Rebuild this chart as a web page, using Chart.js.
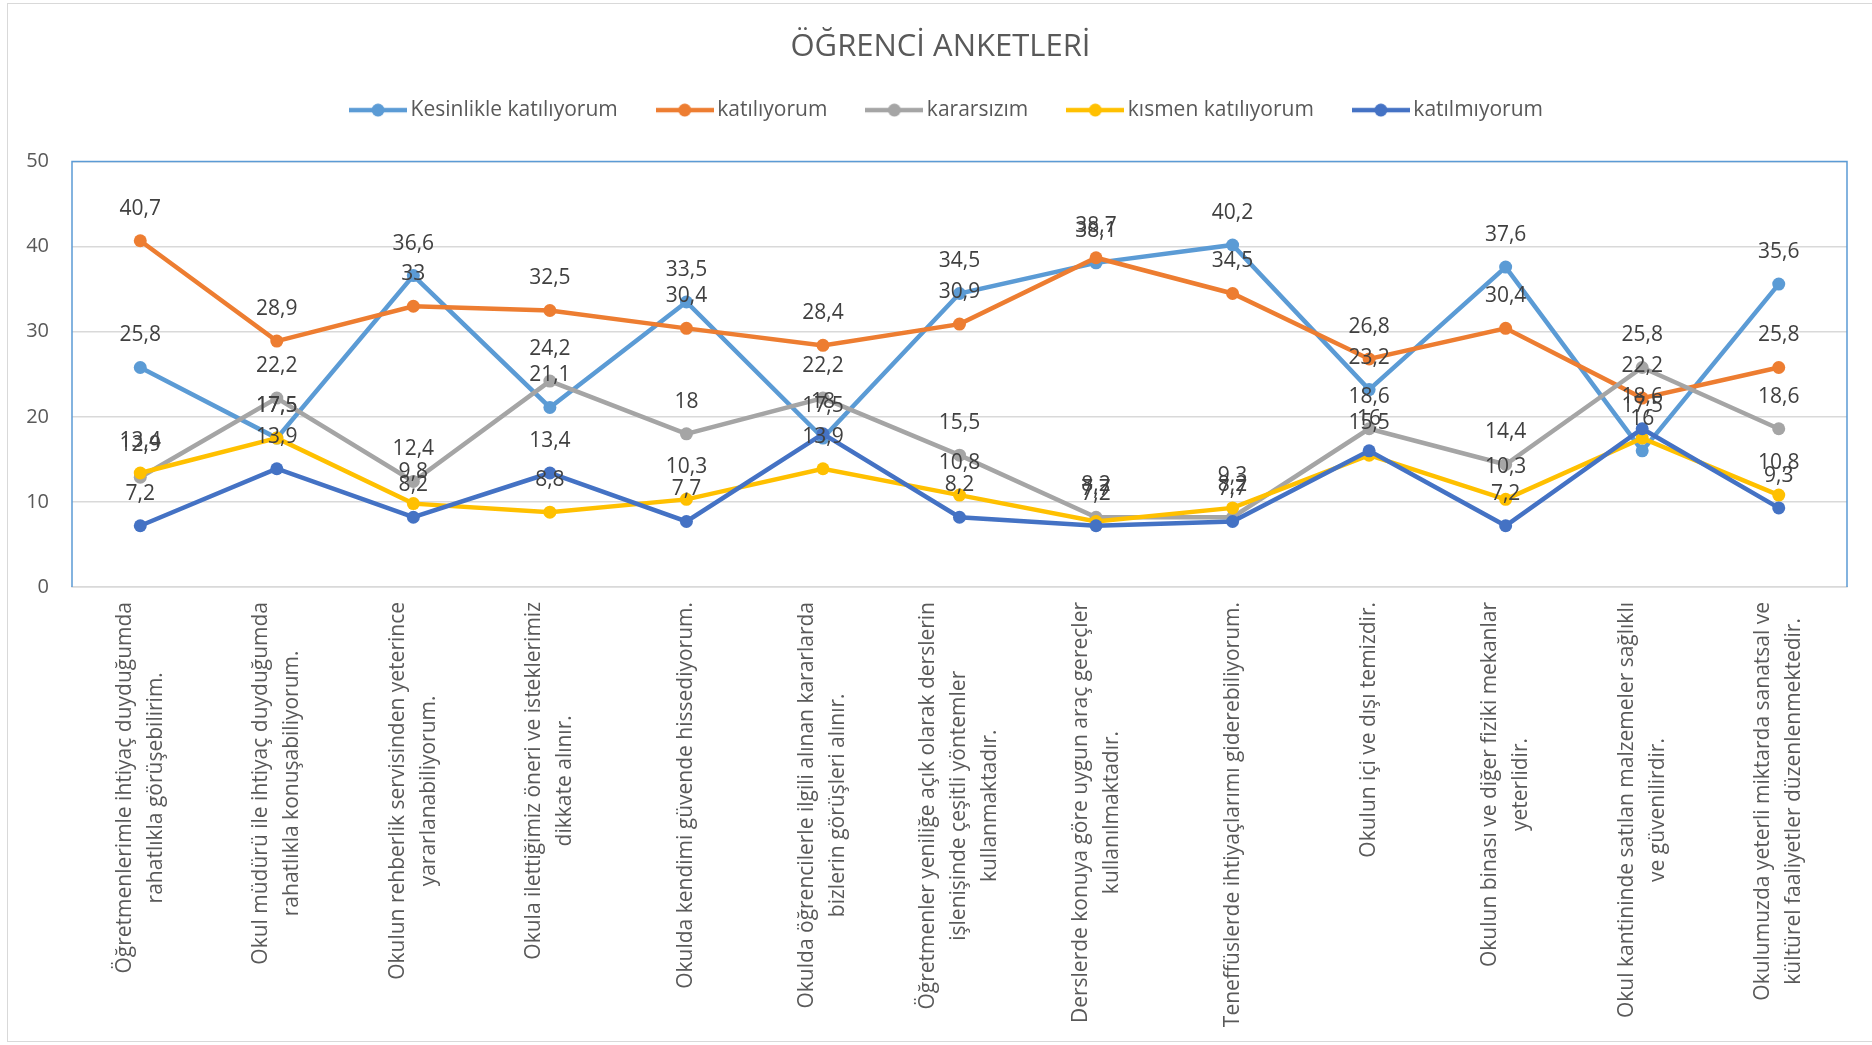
<!DOCTYPE html>
<html lang="tr">
<head>
<meta charset="utf-8">
<title>ÖĞRENCİ ANKETLERİ</title>
<script src="https://cdn.jsdelivr.net/npm/chart.js@4"></script>
<style>
    html, body { margin: 0; padding: 0; background: #fff; }
    body { width: 1872px; height: 1045px; position: relative; overflow: hidden; }
    #frame { position: absolute; left: 7px; top: 3px; width: 1880px; height: 1037px; border: 1px solid #d9d9d9; }
    #surveyChart { position: absolute; left: 0; top: 0; }
</style>
</head>
<body>
<div id="frame"></div>
<canvas id="surveyChart" width="1872" height="1045"></canvas>
<script>
// Categories (survey statements, already wrapped like the original)
const categories = [
    ["Öğretmenlerimle ihtiyaç duyduğumda", "rahatlıkla görüşebilirim."],
    ["Okul müdürü ile ihtiyaç duyduğumda", "rahatlıkla konuşabiliyorum."],
    ["Okulun rehberlik servisinden yeterince", "yararlanabiliyorum."],
    ["Okula ilettiğimiz öneri ve isteklerimiz", "dikkate alınır."],
    ["Okulda kendimi güvende hissediyorum."],
    ["Okulda öğrencilerle ilgili alınan kararlarda", "bizlerin görüşleri alınır."],
    ["Öğretmenler yeniliğe açık olarak derslerin", "işlenişinde çeşitli yöntemler", "kullanmaktadır."],
    ["Derslerde konuya göre uygun araç gereçler", "kullanılmaktadır."],
    ["Teneffüslerde ihtiyaçlarımı giderebiliyorum."],
    ["Okulun içi ve dışı temizdir."],
    ["Okulun binası ve diğer fiziki mekanlar", "yeterlidir."],
    ["Okul kantininde satılan malzemeler sağlıklı", "ve güvenilirdir."],
    ["Okulumuzda yeterli miktarda sanatsal ve", "kültürel faaliyetler düzenlenmektedir."]
];

// Series values (%)
const kesinlikle   = [25.8, 17.5, 36.6, 21.1, 33.5, 17.5, 34.5, 38.1, 40.2, 23.2, 37.6, 16, 35.6];
const katiliyorum  = [40.7, 28.9, 33, 32.5, 30.4, 28.4, 30.9, 38.7, 34.5, 26.8, 30.4, 22.2, 25.8];
const kararsizim   = [12.9, 22.2, 12.4, 24.2, 18, 22.2, 15.5, 8.2, 8.2, 18.6, 14.4, 25.8, 18.6];
const kismen       = [13.4, 17.5, 9.8, 8.8, 10.3, 13.9, 10.8, 7.7, 9.3, 15.5, 10.3, 17.5, 10.8];
const katilmiyorum = [7.2, 13.9, 8.2, 13.4, 7.7, 18, 8.2, 7.2, 7.7, 16, 7.2, 18.6, 9.3];

const seriesNames = ['Kesinlikle katılıyorum', 'katılıyorum', 'kararsızım', 'kısmen katılıyorum', 'katılmıyorum'];
const seriesColors = ['#5B9BD5', '#ED7D31', '#A5A5A5', '#FFC000', '#4472C4'];

// Y axis
const yMin = 0;
const yMax = 50;
const yStep = 10;

const FONT = '"Open Sans", "Noto Sans", sans-serif';

// small line + marker picture for the legend
function legendIcon(color) {
    const c = document.createElement('canvas');
    c.width = 58;
    c.height = 14;
    const g = c.getContext('2d');
    g.strokeStyle = color;
    g.lineWidth = 4.5;
    g.beginPath();
    g.moveTo(0, 7);
    g.lineTo(58, 7);
    g.stroke();
    g.fillStyle = color;
    g.beginPath();
    g.arc(29, 7, 6.5, 0, Math.PI * 2);
    g.fill();
    return c;
}

// the original title/legend sit a little right of the plot centre
const nudgeHeader = {
    id: 'nudgeHeader',
    afterLayout(chart) {
        chart.legend.left += 13;
        chart.legend.right += 13;
        chart.titleBlock.left += 4;
        chart.titleBlock.right += 4;
    }
};

// blue frame round the plot area (left, top, right)
const plotFrame = {
    id: 'plotFrame',
    beforeDatasetsDraw(chart) {
        const {ctx, chartArea: a} = chart;
        ctx.save();
        ctx.strokeStyle = '#5B9BD5';
        ctx.lineWidth = 1.5;
        ctx.beginPath();
        ctx.moveTo(a.left, a.bottom);
        ctx.lineTo(a.left, a.top);
        ctx.lineTo(a.right, a.top);
        ctx.lineTo(a.right, a.bottom);
        ctx.stroke();
        ctx.restore();
    }
};

// value labels above each point
const valueLabels = {
    id: 'valueLabels',
    afterDatasetsDraw(chart) {
        const ctx = chart.ctx;
        ctx.save();
        ctx.font = '21px ' + FONT;
        ctx.fillStyle = '#404040';
        ctx.textAlign = 'center';
        ctx.textBaseline = 'middle';
        chart.data.datasets.forEach((ds, i) => {
            const meta = chart.getDatasetMeta(i);
            meta.data.forEach((pt, j) => {
                ctx.fillText(String(ds.data[j]).replace('.', ','), pt.x, pt.y - 32);
            });
        });
        ctx.restore();
    }
};

// rotated category labels, lines centred on each other
const categoryLabels = {
    id: 'categoryLabels',
    afterDraw(chart) {
        const ctx = chart.ctx;
        const xs = chart.scales.x;
        ctx.save();
        ctx.font = '21px ' + FONT;
        ctx.fillStyle = '#595959';
        ctx.textAlign = 'center';
        ctx.textBaseline = 'middle';
        const top = chart.chartArea.bottom + 15;
        categories.forEach((lines, i) => {
            const x = xs.getPixelForValue(i);
            const longest = Math.max(...lines.map(l => ctx.measureText(l).width));
            ctx.save();
            ctx.translate(x, top + longest / 2);
            ctx.rotate(-Math.PI / 2);
            lines.forEach((l, j) => {
                ctx.fillText(l, 0, (j - (lines.length - 1) / 2) * 31);
            });
            ctx.restore();
        });
        ctx.restore();
    }
};

const allSeries = [kesinlikle, katiliyorum, kararsizim, kismen, katilmiyorum];

const data = {
    labels: categories,
    datasets: allSeries.map((values, i) => ({
        label: seriesNames[i],
        data: values,
        borderColor: seriesColors[i],
        backgroundColor: seriesColors[i],
        pointBackgroundColor: seriesColors[i],
        pointBorderColor: seriesColors[i],
        borderWidth: 4.5,
        pointRadius: 6.5,
        pointBorderWidth: 0,
        tension: 0,
        order: allSeries.length - i
    }))
};

const config = {
    type: 'line',
    data,
    options: {
        responsive: false,
        animation: false,
        layout: { padding: { left: 26, right: 25, top: 0, bottom: 458 } },
        plugins: {
            title: {
                display: true,
                text: 'ÖĞRENCİ ANKETLERİ',
                color: '#595959',
                font: { family: FONT, size: 31, weight: 'normal' },
                padding: { top: 29, bottom: -11.6 }
            },
            // empty spacer between legend and plot
            subtitle: {
                display: true,
                text: ' ',
                weight: 500,
                font: { size: 10 },
                padding: { top: 10, bottom: 9 }
            },
            legend: {
                display: true,
                labels: {
                    usePointStyle: true,
                    pointStyleWidth: 44,
                    color: '#595959',
                    font: { family: FONT, size: 21 },
                    padding: 45,
                    generateLabels: chart => chart.data.datasets.map((ds, i) => ({
                        text: ds.label,
                        fillStyle: ds.borderColor,
                        strokeStyle: ds.borderColor,
                        lineWidth: 0,
                        pointStyle: legendIcon(ds.borderColor),
                        fontColor: '#595959',
                        hidden: false,
                        datasetIndex: i
                    }))
                }
            },
            tooltip: { enabled: false }
        },
        scales: {
            x: {
                offset: true,
                grid: { display: false, drawTicks: false },
                border: { display: true, color: '#d9d9d9', width: 1.5 },
                ticks: { display: false },
                afterFit: s => { s.height = 0; }
            },
            y: {
                min: yMin,
                max: yMax,
                grid: { color: '#d9d9d9', lineWidth: 1.5, drawTicks: false },
                border: { display: false },
                ticks: {
                    stepSize: yStep,
                    padding: 23,
                    color: '#595959',
                    font: { family: FONT, size: 20 }
                },
                afterFit: s => { s.width = 46; }
            }
        }
    },
    plugins: [nudgeHeader, plotFrame, valueLabels, categoryLabels]
};

const surveyChart = new Chart(document.getElementById('surveyChart'), config);
</script>
</body>
</html>
